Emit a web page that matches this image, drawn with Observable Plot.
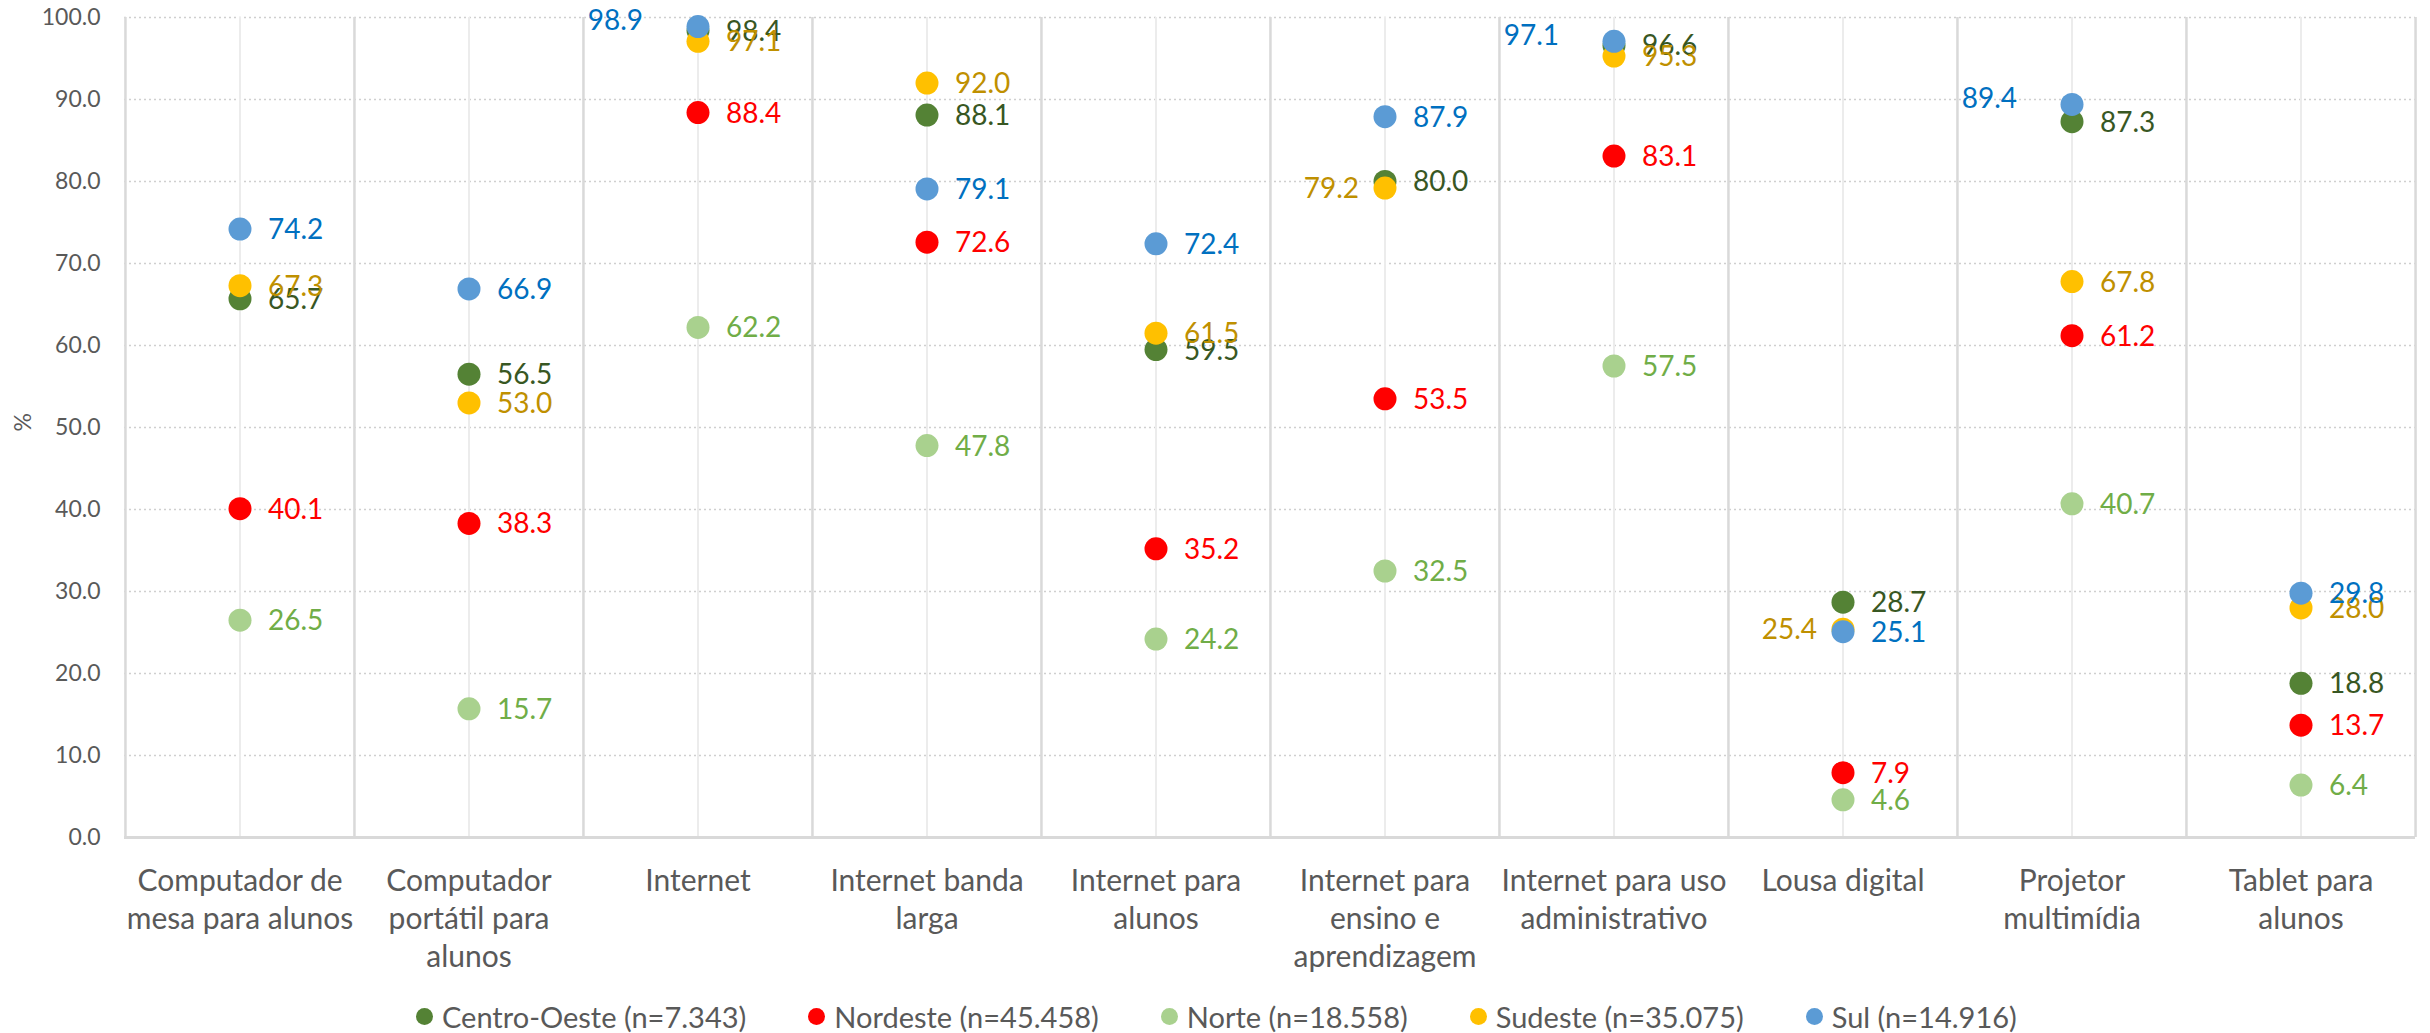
<!DOCTYPE html>
<html>
<head>
<meta charset="utf-8">
<script src="https://cdn.jsdelivr.net/npm/d3@7"></script>
<script src="https://cdn.jsdelivr.net/npm/@observablehq/plot@0.6"></script>
<style>
  html, body { margin: 0; padding: 0; background: #ffffff; }
  body { width: 2430px; height: 1033px; overflow: hidden; font-family: Lato, "Open Sans", sans-serif; }
  #legend { height: 33px; display: flex; align-items: center; padding-left: 416px; font-family: Lato, sans-serif; font-size: 29px; color: #595959; white-space: nowrap; }
  #legend .item { display: flex; align-items: center; margin-right: 62px; }
  #legend .sw { width: 17px; height: 17px; border-radius: 50%; margin-right: 9px; }
</style>
</head>
<body>
<div id="chart"></div>
<div id="legend"></div>
<script>
// ---- data ----
const categories = [
  "Computador de mesa para alunos",
  "Computador portátil para alunos",
  "Internet",
  "Internet banda larga",
  "Internet para alunos",
  "Internet para ensino e aprendizagem",
  "Internet para uso administrativo",
  "Lousa digital",
  "Projetor multimídia",
  "Tablet para alunos"
];
const tickLabels = [
  "Computador de\nmesa para alunos",
  "Computador\nportátil para\nalunos",
  "Internet",
  "Internet banda\nlarga",
  "Internet para\nalunos",
  "Internet para\nensino e\naprendizagem",
  "Internet para uso\nadministrativo",
  "Lousa digital",
  "Projetor\nmultimídia",
  "Tablet para\nalunos"
];
const seriesNames = ["Centro-Oeste (n=7.343)", "Nordeste (n=45.458)", "Norte (n=18.558)", "Sudeste (n=35.075)", "Sul (n=14.916)"];
const centroOeste = [65.7, 56.5, 98.4, 88.1, 59.5, 80.0, 96.6, 28.7, 87.3, 18.8];
const nordeste    = [40.1, 38.3, 88.4, 72.6, 35.2, 53.5, 83.1, 7.9, 61.2, 13.7];
const norte       = [26.5, 15.7, 62.2, 47.8, 24.2, 32.5, 57.5, 4.6, 40.7, 6.4];
const sudeste     = [67.3, 53.0, 97.1, 92.0, 61.5, 79.2, 95.3, 25.4, 67.8, 28.0];
const sul         = [74.2, 66.9, 98.9, 79.1, 72.4, 87.9, 97.1, 25.1, 89.4, 29.8];
const yTicks = [0, 10, 20, 30, 40, 50, 60, 70, 80, 90, 100];

// ---- styling ----
const seriesValues = [centroOeste, nordeste, norte, sudeste, sul];
const dotColors  = ["#548235", "#FF0000", "#A9D18E", "#FFC000", "#5B9BD5"];
const textColors = ["#385723", "#FF0000", "#70AD47", "#BF9000", "#0070C0"];
// label placement exceptions (series index, category index)
const labelLeftNear = [[3, 5], [3, 7]];
const labelLeftFar  = [[4, 2], [4, 6], [4, 8]];
const isIn = (list, s, c) => list.some(([a, b]) => a === s && b === c);

const rows = [];
seriesValues.forEach((vals, s) => vals.forEach((v, c) => rows.push({s, c, cat: categories[c], value: v})));

const W = 2430, H = 1000, ml = 124, mr = 15, mt = 17, mb = 163;
const bw = (W - ml - mr) / categories.length;
const font = "Lato, 'Open Sans', sans-serif";

const marks = [
  Plot.ruleY(yTicks.filter(d => d > 0), {y: d => d, stroke: "#cfcfcf", strokeWidth: 1.3, strokeDasharray: "2,3"}),
  Plot.ruleX(categories, {x: d => d, stroke: "#ececec", strokeWidth: 2}),
  Plot.ruleX(categories, {x: d => d, dx: -bw / 2, stroke: "#d9d9d9", strokeWidth: 2.5}),
  Plot.ruleX([categories[categories.length - 1]], {x: d => d, dx: bw / 2, stroke: "#d9d9d9", strokeWidth: 2.5}),
  Plot.ruleY([0], {stroke: "#d9d9d9", strokeWidth: 3}),
];
seriesValues.forEach((_, s) => {
  marks.push(Plot.dot(rows.filter(d => d.s === s), {x: "cat", y: "value", r: 11.5, fill: dotColors[s], stroke: "none"}));
});
seriesValues.forEach((_, s) => {
  const rs = rows.filter(d => d.s === s);
  const common = {x: "cat", y: "value", text: d => d.value.toFixed(1), fill: textColors[s], fontSize: 28, dy: 1};
  marks.push(Plot.text(rs.filter(d => !isIn(labelLeftNear, d.s, d.c) && !isIn(labelLeftFar, d.s, d.c)), {...common, textAnchor: "start", dx: 28}));
  marks.push(Plot.text(rs.filter(d => isIn(labelLeftNear, d.s, d.c)), {...common, textAnchor: "end", dx: -26}));
  marks.push(Plot.text(rs.filter(d => isIn(labelLeftFar, d.s, d.c)), {...common, textAnchor: "end", dx: -55, dy: -5}));
});
marks.push(Plot.text(categories, {x: d => d, text: (d, i) => tickLabels[i], frameAnchor: "bottom", lineAnchor: "top", dy: 27, lineHeight: 1.26, fontSize: 30, fill: "#595959"}));
marks.push(Plot.axisY({ticks: yTicks, tickFormat: d => d.toFixed(1), tickSize: 0, tickPadding: 24, fontSize: 23, color: "#595959", label: null}));
marks.push(Plot.text(["%"], {text: d => d, frameAnchor: "left", dx: -101, dy: 4, rotate: -90, fontSize: 23, fill: "#595959"}));

const chart = Plot.plot({
  width: W, height: H,
  marginLeft: ml, marginRight: mr, marginTop: mt, marginBottom: mb,
  style: {fontFamily: font, background: "transparent"},
  x: {type: "band", domain: categories, padding: 0, axis: null},
  y: {domain: [0, 100], axis: null},
  marks
});
document.getElementById("chart").appendChild(chart);

const legend = document.getElementById("legend");
seriesNames.forEach((name, i) => {
  const item = document.createElement("div");
  item.className = "item";
  const sw = document.createElement("div");
  sw.className = "sw";
  sw.style.background = dotColors[i];
  const t = document.createElement("span");
  t.textContent = name;
  item.appendChild(sw); item.appendChild(t);
  legend.appendChild(item);
});
</script>
</body>
</html>
